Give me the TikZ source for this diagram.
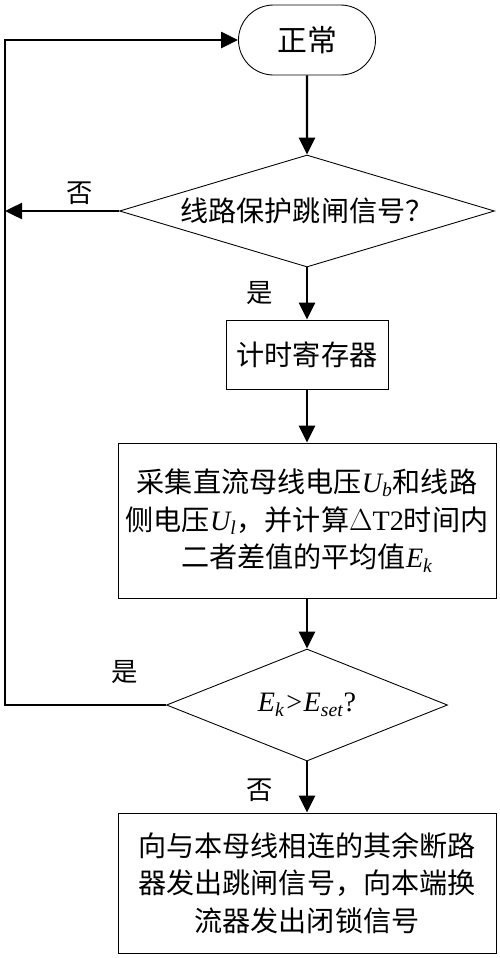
\documentclass[tikz,border=0pt]{standalone}
\usepackage{fontspec}
\setmainfont{Noto Sans CJK SC}
\newfontfamily\tnr{Liberation Serif}
\usetikzlibrary{arrows.meta,shapes.geometric,shapes.misc}
\newcommand{\vsub}[2]{{\tnr\itshape #1\textsubscript{#2}}}

\begin{document}
\begin{tikzpicture}[
    box/.style={draw, line width=0.5pt, rectangle, align=center, inner sep=0pt,
      font=\fontsize{16}{21.5}\selectfont},
    decision/.style={draw, line width=0.5pt, diamond, aspect=3, inner sep=0pt,
      font=\fontsize{16}{20}\selectfont},
    terminal/.style={draw, line width=0.5pt, rounded rectangle, inner sep=0pt,
      font=\fontsize{17}{20}\selectfont},
    flow/.style={line width=1.4pt, -{Triangle[length=0.34cm,width=0.32cm]}},
    lab/.style={font=\fontsize{15}{17}\selectfont}
  ]
  \useasboundingbox (0,0) rectangle (10,-19.16);

  % Steps of the chart
  \node[terminal, minimum width=2.74cm, minimum height=1.4cm] (start) at (6.14,-0.8) {正常};
  \node[decision, minimum width=7.5cm, minimum height=2.24cm] (trip) at (6.14,-4.22)
    {线路保护跳闸信号？};
  \node[box, minimum width=3.24cm, minimum height=1.38cm] (timer) at (6.14,-7.09) {计时寄存器};
  \node[box, minimum width=7.56cm, minimum height=3.1cm] (sample) at (6.14,-10.41)
    {采集直流母线电压\vsub{U}{b}和线路\\
     侧电压\vsub{U}{l}，并计算{\tnr$\Delta$T2}时间内\\
     二者差值的平均值\vsub{E}{k}};
  \node[decision, minimum width=5.62cm, minimum height=2.24cm] (cmp) at (6.14,-14.1)
    {\vsub{E}{k}{\tnr\itshape >}\vsub{E}{set}{\tnr ?}};
  \node[box, minimum width=7.56cm, minimum height=2.8cm] (block) at (6.14,-17.66)
    {向与本母线相连的其余断路\\
     器发出跳闸信号，向本端换\\
     流器发出闭锁信号};

  % Main flow
  \foreach \a/\b in {start/trip, trip/timer, timer/sample, sample/cmp, cmp/block}
    \draw[flow] (\a) -- (\b);

  % Side branches
  \coordinate (noend) at (0.1,-4.22);
  \coordinate (loopbot) at (0.1,-14.1);
  \coordinate (looptop) at (0.1,-0.8);
  \draw[flow] (trip.west) -- (noend);
  \draw[flow] (cmp.west) -- (loopbot) -- (looptop) -- (start.west);

  % Branch labels
  \node[lab] (tripno) at (1.6,-3.86) {否};
  \node[lab] (tripyes) at (5.2,-5.86) {是};
  \node[lab] (cmpyes) at (2.5,-13.44) {是};
  \node[lab] (cmpno) at (5.2,-15.8) {否};
\end{tikzpicture}
\end{document}
